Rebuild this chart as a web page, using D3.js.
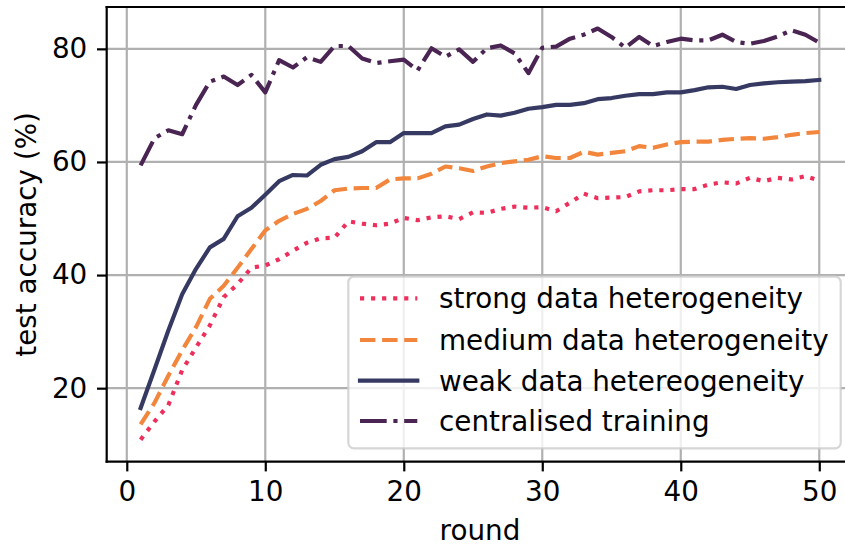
<!DOCTYPE html>
<html>
<head>
<meta charset="utf-8">
<script src="https://cdn.jsdelivr.net/npm/d3@7"></script>
<style>
  html, body { margin: 0; padding: 0; background: #fff; }
  svg { display: block; font-family: "DejaVu Sans", sans-serif; }
</style>
</head>
<body>
<div id="chart"></div>
<script>
// rounds 1..50
const rounds = d3.range(1, 51)

const strong = [10.9, 14.1, 17.0, 23.2, 27.2, 31.1, 36.1, 38.4, 41.3, 41.7,
  42.8, 44.3, 45.7, 46.5, 46.6, 49.5, 49.1, 48.8, 49.1, 50.1,
  49.7, 50.2, 50.4, 49.9, 51.1, 51.0, 51.7, 52.1, 51.9, 52.0,
  51.3, 52.8, 54.4, 53.6, 53.7, 53.8, 54.8, 55.0, 55.0, 55.2,
  55.2, 56.0, 56.4, 56.2, 57.2, 56.6, 57.2, 56.9, 57.5, 56.7]

const medium = [13.6, 17.4, 22.2, 26.7, 30.8, 35.8, 38.1, 41.3, 44.6, 47.9,
  49.6, 50.8, 51.7, 53.1, 55.0, 55.3, 55.4, 55.4, 56.9, 57.1,
  57.1, 57.9, 59.2, 58.9, 58.4, 59.2, 59.8, 60.1, 60.4, 61.0,
  60.7, 60.7, 61.8, 61.3, 61.6, 61.9, 62.8, 62.5, 63.1, 63.5,
  63.6, 63.6, 63.9, 64.1, 64.2, 64.1, 64.4, 64.8, 65.1, 65.3]

const weak = [16.5, 23.3, 30.2, 36.6, 41.1, 44.9, 46.4, 50.4, 51.9, 54.2,
  56.6, 57.7, 57.6, 59.5, 60.5, 60.9, 61.9, 63.5, 63.5, 65.1,
  65.1, 65.1, 66.3, 66.6, 67.6, 68.4, 68.2, 68.7, 69.4, 69.7,
  70.1, 70.1, 70.4, 71.1, 71.3, 71.7, 72.0, 72.0, 72.3, 72.3,
  72.7, 73.2, 73.3, 72.9, 73.6, 73.9, 74.1, 74.2, 74.3, 74.5]

const centralised = [59.4, 64.2, 65.6, 64.9, 70.1, 74.2, 75.1, 73.6, 75.4, 72.3,
  78.0, 76.7, 78.5, 77.7, 80.5, 80.5, 78.3, 77.5, 77.8, 78.1,
  76.2, 80.1, 78.6, 79.9, 77.7, 80.1, 80.6, 79.2, 75.7, 80.2,
  80.4, 81.8, 82.5, 83.6, 82.1, 80.2, 82.1, 80.5, 81.2, 81.8,
  81.5, 81.5, 82.5, 81.2, 80.9, 81.4, 82.2, 83.3, 82.5, 81.1]

const xTicks = [0, 10, 20, 30, 40, 50]
const yTicks = [20, 40, 60, 80]

const seriesNames = ["strong data heterogeneity", "medium data heterogeneity",
  "weak data hetereogeneity", "centralised training"]

// line width 1.5pt at 200 dpi
const lw = 4.17
const series = [
  { name: seriesNames[0], values: strong, color: "#ee2f5c", dash: [1 * lw, 1.65 * lw] },
  { name: seriesNames[1], values: medium, color: "#f2863d", dash: [3.7 * lw, 1.6 * lw] },
  { name: seriesNames[2], values: weak, color: "#363a62", dash: null },
  { name: seriesNames[3], values: centralised, color: "#4a2452", dash: [6.4 * lw, 1.6 * lw, 1 * lw, 1.6 * lw] }
]

const width = 845
const height = 550
// the plot area runs past the right edge of the picture (figure was cropped)
const plot = { left: 106.7, right: 853.2, top: 7, bottom: 461.7 }

const fontSize = 27.8

const svg = d3.select("#chart")
  .append("svg")
  .attr("width", width)
  .attr("height", height)

const x = d3.scaleLinear()
  .domain([-1.45, 52.45])
  .range([plot.left, plot.right])

const y = d3.scaleLinear()
  .domain([7.0, 87.4])
  .range([plot.bottom, plot.top])

// grid
const grid = svg.append("g")
grid.selectAll(".gx")
  .data(xTicks)
  .enter()
  .append("line")
  .attr("x1", d => x(d)).attr("x2", d => x(d))
  .attr("y1", plot.top).attr("y2", plot.bottom)
  .attr("stroke", "#b0b0b0")
  .attr("stroke-width", 2.2)

grid.selectAll(".gy")
  .data(yTicks)
  .enter()
  .append("line")
  .attr("x1", plot.left).attr("x2", plot.right)
  .attr("y1", d => y(d)).attr("y2", d => y(d))
  .attr("stroke", "#b0b0b0")
  .attr("stroke-width", 2.2)

// lines
const line = d3.line()
  .x((d, i) => x(rounds[i]))
  .y(d => y(d))

svg.selectAll(".series")
  .data(series)
  .enter()
  .append("path")
  .attr("d", d => line(d.values))
  .attr("fill", "none")
  .attr("stroke", d => d.color)
  .attr("stroke-width", lw)
  .attr("stroke-linejoin", "round")
  .attr("stroke-linecap", d => d.dash ? "butt" : "square")
  .attr("stroke-dasharray", d => d.dash ? d.dash.join(",") : null)

// axes
const xAxis = svg.append("g")
  .attr("transform", `translate(0,${plot.bottom})`)
  .call(d3.axisBottom(x).tickValues(xTicks).tickSize(9.7).tickPadding(9.7))
const yAxis = svg.append("g")
  .attr("transform", `translate(${plot.left},0)`)
  .call(d3.axisLeft(y).tickValues(yTicks).tickSize(9.7).tickPadding(9.7))

for (const ax of [xAxis, yAxis]) {
  ax.select(".domain").remove()
  ax.selectAll(".tick line").attr("stroke", "#000").attr("stroke-width", 2.2)
  ax.selectAll(".tick text")
    .attr("fill", "#000")
    .style("font-size", fontSize + "px")
    .style("font-family", "DejaVu Sans")
}

// spines: left, bottom, top (right one is cut off)
svg.append("line")
  .attr("x1", plot.left).attr("x2", plot.left)
  .attr("y1", plot.top).attr("y2", plot.bottom)
  .attr("stroke", "#000").attr("stroke-width", 2.2).attr("stroke-linecap", "square")
svg.append("line")
  .attr("x1", plot.left).attr("x2", plot.right)
  .attr("y1", plot.bottom).attr("y2", plot.bottom)
  .attr("stroke", "#000").attr("stroke-width", 2.2).attr("stroke-linecap", "square")
svg.append("line")
  .attr("x1", plot.left).attr("x2", plot.right)
  .attr("y1", plot.top).attr("y2", plot.top)
  .attr("stroke", "#000").attr("stroke-width", 2.2).attr("stroke-linecap", "square")

// axis labels
svg.append("text")
  .attr("x", (plot.left + plot.right) / 2)
  .attr("y", 540)
  .attr("text-anchor", "middle")
  .style("font-size", fontSize + "px")
  .text("round")

svg.append("text")
  .attr("transform", `translate(36,${(plot.top + plot.bottom) / 2}) rotate(-90)`)
  .attr("text-anchor", "middle")
  .style("font-size", fontSize + "px")
  .text("test accuracy (%)")

// legend
const legend = svg.append("g")
legend.append("rect")
  .attr("x", 348.3).attr("y", 276.7)
  .attr("width", 840.7 - 348.3).attr("height", 448.3 - 276.7)
  .attr("rx", 5.6)
  .attr("fill", "rgba(255,255,255,0.8)")
  .attr("stroke", "rgba(204,204,204,0.8)")
  .attr("stroke-width", 2.2)

const rowY = [298.3, 340, 380.7, 421]
const items = legend.selectAll(".item")
  .data(series)
  .enter()
  .append("g")
  .attr("transform", (d, i) => `translate(0,${rowY[i]})`)

items.append("line")
  .attr("x1", 360).attr("x2", 417.3)
  .attr("y1", 0).attr("y2", 0)
  .attr("stroke", d => d.color)
  .attr("stroke-width", lw)
  .attr("stroke-linecap", d => d.dash ? "butt" : "square")
  .attr("stroke-dasharray", d => d.dash ? d.dash.join(",") : null)

items.append("text")
  .attr("x", 439)
  .attr("y", 0)
  .attr("dy", "0.36em")
  .style("font-size", fontSize + "px")
  .text(d => d.name)
</script>
</body>
</html>
